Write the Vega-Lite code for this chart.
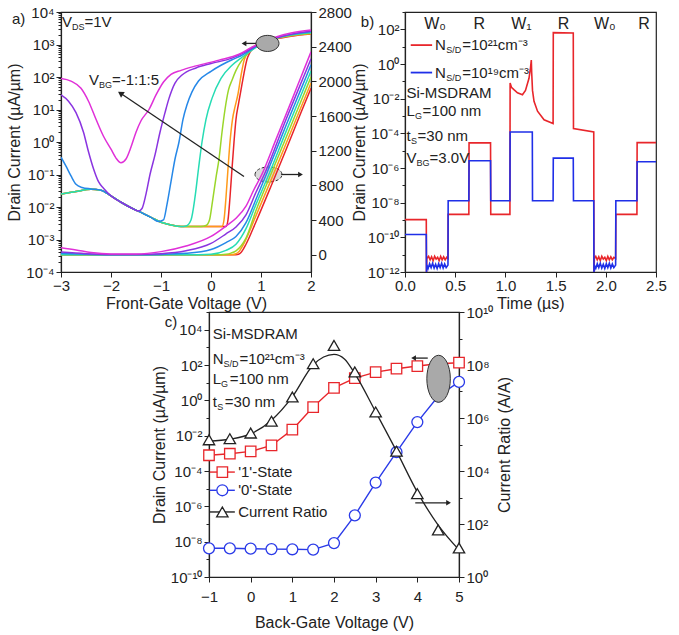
{
"$schema": "https://vega.github.io/schema/vega-lite/v6.json",
"background": "white",
"padding": {"left": 6, "top": 4, "right": 0, "bottom": 0},
"config": {
  "font": "Liberation Sans",
  "view": {"stroke": "#222", "strokeWidth": 1.2},
  "axis": {"labelFontSize": 15, "labelColor": "#222", "titleFontSize": 16, "titleFontWeight": "normal", "titleColor": "#222", "domainColor": "#222", "domainWidth": 1.2, "tickColor": "#222", "grid": false, "labelPadding": 2, "labelFlush": false, "labelOverlap": false},
  "text": {"font": "Liberation Sans", "color": "#222"}
},
"datasets": {
  "alog": [
    {"k":-1,"v":-3,"i":0.025},{"k":-1,"v":-2.7,"i":0.03},{"k":-1,"v":-2.4,"i":0.035},{"k":-1,"v":-2.2,"i":0.033},{"k":-1,"v":-2,"i":0.022},{"k":-1,"v":-1.8,"i":0.014},{"k":-1,"v":-1.6,"i":0.0095},{"k":-1,"v":-1.4,"i":0.0068},{"k":-1,"v":-1.2,"i":0.0048},{"k":-1,"v":-1,"i":0.0034},{"k":-1,"v":-0.8,"i":0.0028},{"k":-1,"v":-0.6,"i":0.0025},{"k":-1,"v":-0.4,"i":0.0025},{"k":-1,"v":-0.2,"i":0.0025},{"k":-1,"v":0,"i":0.0025},{"k":-1,"v":0.2,"i":0.0025},
    {"k":-1,"v":0.3,"i":0.0025},{"k":-1,"v":0.34,"i":0.004},{"k":-1,"v":0.38,"i":0.02},{"k":-1,"v":0.42,"i":0.15},{"k":-1,"v":0.46,"i":1},{"k":-1,"v":0.5,"i":5},{"k":-1,"v":0.55,"i":15},{"k":-1,"v":0.6,"i":40},{"k":-1,"v":0.66,"i":130},{"k":-1,"v":0.72,"i":350},{"k":-1,"v":0.78,"i":580},{"k":-1,"v":0.9,"i":880},{"k":-1,"v":1.05,"i":1150},{"k":-1,"v":1.3,"i":1480},{"k":-1,"v":1.6,"i":1800},{"k":-1,"v":2,"i":2100},
    {"k":0,"v":-3,"i":0.025},{"k":0,"v":-2.7,"i":0.03},{"k":0,"v":-2.4,"i":0.035},{"k":0,"v":-2.2,"i":0.033},{"k":0,"v":-2,"i":0.022},{"k":0,"v":-1.8,"i":0.014},{"k":0,"v":-1.6,"i":0.0095},{"k":0,"v":-1.4,"i":0.0068},{"k":0,"v":-1.2,"i":0.0048},{"k":0,"v":-1,"i":0.0034},{"k":0,"v":-0.8,"i":0.0028},{"k":0,"v":-0.6,"i":0.0025},{"k":0,"v":-0.4,"i":0.0025},{"k":0,"v":-0.2,"i":0.0025},{"k":0,"v":0,"i":0.0025},
    {"k":0,"v":0.22,"i":0.0025},{"k":0,"v":0.26,"i":0.004},{"k":0,"v":0.3,"i":0.02},{"k":0,"v":0.34,"i":0.15},{"k":0,"v":0.38,"i":1},{"k":0,"v":0.43,"i":5},{"k":0,"v":0.48,"i":12},{"k":0,"v":0.54,"i":30},{"k":0,"v":0.6,"i":110},{"k":0,"v":0.66,"i":320},{"k":0,"v":0.73,"i":560},{"k":0,"v":0.85,"i":860},{"k":0,"v":1,"i":1120},{"k":0,"v":1.3,"i":1520},{"k":0,"v":1.6,"i":1850},{"k":0,"v":2,"i":2150},
    {"k":1,"v":-3,"i":0.025},{"k":1,"v":-2.7,"i":0.03},{"k":1,"v":-2.4,"i":0.035},{"k":1,"v":-2.2,"i":0.033},{"k":1,"v":-2,"i":0.022},{"k":1,"v":-1.8,"i":0.014},{"k":1,"v":-1.6,"i":0.0095},{"k":1,"v":-1.4,"i":0.0068},{"k":1,"v":-1.2,"i":0.0048},{"k":1,"v":-1,"i":0.0034},{"k":1,"v":-0.8,"i":0.0028},{"k":1,"v":-0.6,"i":0.0025},{"k":1,"v":-0.4,"i":0.0025},{"k":1,"v":-0.2,"i":0.0025},
    {"k":1,"v":-0.1,"i":0.0027},{"k":1,"v":-0.03,"i":0.004},{"k":1,"v":0.03,"i":0.015},{"k":1,"v":0.1,"i":0.08},{"k":1,"v":0.16,"i":0.3},{"k":1,"v":0.22,"i":2},{"k":1,"v":0.28,"i":10},{"k":1,"v":0.35,"i":40},{"k":1,"v":0.42,"i":80},{"k":1,"v":0.5,"i":160},{"k":1,"v":0.62,"i":330},{"k":1,"v":0.75,"i":560},{"k":1,"v":0.9,"i":850},{"k":1,"v":1.05,"i":1150},{"k":1,"v":1.3,"i":1560},{"k":1,"v":1.6,"i":1900},{"k":1,"v":2,"i":2200},
    {"k":2,"v":-3,"i":0.025},{"k":2,"v":-2.7,"i":0.03},{"k":2,"v":-2.4,"i":0.035},{"k":2,"v":-2.2,"i":0.033},{"k":2,"v":-2,"i":0.022},{"k":2,"v":-1.8,"i":0.014},{"k":2,"v":-1.6,"i":0.0095},{"k":2,"v":-1.4,"i":0.0068},{"k":2,"v":-1.2,"i":0.0048},{"k":2,"v":-1,"i":0.0034},{"k":2,"v":-0.8,"i":0.0028},{"k":2,"v":-0.6,"i":0.0025},
    {"k":2,"v":-0.5,"i":0.0026},{"k":2,"v":-0.4,"i":0.004},{"k":2,"v":-0.32,"i":0.02},{"k":2,"v":-0.25,"i":0.15},{"k":2,"v":-0.18,"i":1},{"k":2,"v":-0.1,"i":5},{"k":2,"v":0.02,"i":22},{"k":2,"v":0.2,"i":90},{"k":2,"v":0.42,"i":230},{"k":2,"v":0.6,"i":380},{"k":2,"v":0.8,"i":650},{"k":2,"v":1,"i":1000},{"k":2,"v":1.3,"i":1550},{"k":2,"v":1.6,"i":1950},{"k":2,"v":2,"i":2300},
    {"k":3,"v":-3,"i":0.34},{"k":3,"v":-2.9,"i":0.18},{"k":3,"v":-2.8,"i":0.09},{"k":3,"v":-2.7,"i":0.05},{"k":3,"v":-2.58,"i":0.04},{"k":3,"v":-2.4,"i":0.036},{"k":3,"v":-2.2,"i":0.033},{"k":3,"v":-2,"i":0.022},{"k":3,"v":-1.8,"i":0.014},{"k":3,"v":-1.6,"i":0.0095},{"k":3,"v":-1.4,"i":0.0068},{"k":3,"v":-1.2,"i":0.0048},{"k":3,"v":-1.05,"i":0.0036},{"k":3,"v":-0.95,"i":0.004},{"k":3,"v":-0.88,"i":0.012},{"k":3,"v":-0.8,"i":0.06},{"k":3,"v":-0.72,"i":0.3},{"k":3,"v":-0.64,"i":1},{"k":3,"v":-0.56,"i":5},{"k":3,"v":-0.48,"i":14},{"k":3,"v":-0.38,"i":35},{"k":3,"v":-0.25,"i":75},{"k":3,"v":0,"i":150},{"k":3,"v":0.2,"i":230},{"k":3,"v":0.42,"i":340},{"k":3,"v":0.6,"i":450},{"k":3,"v":0.8,"i":700},{"k":3,"v":1,"i":1050},{"k":3,"v":1.3,"i":1600},{"k":3,"v":1.6,"i":2050},{"k":3,"v":2,"i":2450},
    {"k":4,"v":-3,"i":28},{"k":4,"v":-2.85,"i":18},{"k":4,"v":-2.7,"i":8},{"k":4,"v":-2.55,"i":2},{"k":4,"v":-2.45,"i":0.5},{"k":4,"v":-2.35,"i":0.15},{"k":4,"v":-2.25,"i":0.06},{"k":4,"v":-2.15,"i":0.038},{"k":4,"v":-2,"i":0.022},{"k":4,"v":-1.8,"i":0.014},{"k":4,"v":-1.6,"i":0.0095},{"k":4,"v":-1.45,"i":0.0075},{"k":4,"v":-1.38,"i":0.009},{"k":4,"v":-1.3,"i":0.025},{"k":4,"v":-1.22,"i":0.1},{"k":4,"v":-1.12,"i":0.4},{"k":4,"v":-1.02,"i":2},{"k":4,"v":-0.92,"i":8},{"k":4,"v":-0.84,"i":22},{"k":4,"v":-0.72,"i":65},{"k":4,"v":-0.58,"i":115},{"k":4,"v":-0.3,"i":190},{"k":4,"v":0,"i":260},{"k":4,"v":0.42,"i":380},{"k":4,"v":0.7,"i":600},{"k":4,"v":0.9,"i":900},{"k":4,"v":1.2,"i":1400},{"k":4,"v":1.6,"i":2050},{"k":4,"v":2,"i":2600},
    {"k":5,"v":-3,"i":90},{"k":5,"v":-2.8,"i":75},{"k":5,"v":-2.6,"i":45},{"k":5,"v":-2.45,"i":18},{"k":5,"v":-2.3,"i":5},{"k":5,"v":-2.15,"i":1.5},{"k":5,"v":-2,"i":0.6},{"k":5,"v":-1.9,"i":0.32},{"k":5,"v":-1.8,"i":0.23},{"k":5,"v":-1.7,"i":0.3},{"k":5,"v":-1.6,"i":0.7},{"k":5,"v":-1.5,"i":2},{"k":5,"v":-1.4,"i":4.5},{"k":5,"v":-1.24,"i":10},{"k":5,"v":-1.1,"i":28},{"k":5,"v":-0.95,"i":70},{"k":5,"v":-0.8,"i":120},{"k":5,"v":-0.6,"i":160},{"k":5,"v":-0.3,"i":220},{"k":5,"v":0.16,"i":330},{"k":5,"v":0.56,"i":500},{"k":5,"v":0.8,"i":800},{"k":5,"v":1,"i":1150},{"k":5,"v":1.3,"i":1700},{"k":5,"v":1.6,"i":2250},{"k":5,"v":2,"i":2800}
  ],
  "alin": [
    {"k":-1,"v":-3,"i":0},{"k":-1,"v":0.5,"i":0},{"k":-1,"v":0.55,"i":5},{"k":-1,"v":0.6,"i":25},{"k":-1,"v":0.7,"i":120},{"k":-1,"v":0.9,"i":380},{"k":-1,"v":1.2,"i":790},{"k":-1,"v":1.5,"i":1210},{"k":-1,"v":1.8,"i":1640},{"k":-1,"v":2,"i":1920},
    {"k":0,"v":-3,"i":0},{"k":0,"v":0.42,"i":0},{"k":0,"v":0.5,"i":10},{"k":0,"v":0.55,"i":30},{"k":0,"v":0.65,"i":120},{"k":0,"v":0.9,"i":450},{"k":0,"v":1.2,"i":860},{"k":0,"v":1.5,"i":1280},{"k":0,"v":1.8,"i":1700},{"k":0,"v":2,"i":1980},
    {"k":1,"v":-3,"i":0},{"k":1,"v":0.2,"i":0},{"k":1,"v":0.3,"i":4},{"k":1,"v":0.4,"i":18},{"k":1,"v":0.5,"i":45},{"k":1,"v":0.6,"i":100},{"k":1,"v":0.7,"i":190},{"k":1,"v":0.9,"i":510},{"k":1,"v":1.2,"i":930},{"k":1,"v":1.5,"i":1350},{"k":1,"v":1.8,"i":1770},{"k":1,"v":2,"i":2050},
    {"k":2,"v":-3,"i":0},{"k":2,"v":-0.5,"i":0},{"k":2,"v":0,"i":6},{"k":2,"v":0.3,"i":50},{"k":2,"v":0.5,"i":120},{"k":2,"v":0.7,"i":300},{"k":2,"v":0.9,"i":580},{"k":2,"v":1.16,"i":930},{"k":2,"v":1.5,"i":1420},{"k":2,"v":1.8,"i":1840},{"k":2,"v":2,"i":2120},
    {"k":3,"v":-3,"i":15},{"k":3,"v":-2.5,"i":5},{"k":3,"v":-2,"i":0},{"k":3,"v":-1.5,"i":0},{"k":3,"v":-1,"i":3},{"k":3,"v":-0.5,"i":15},{"k":3,"v":0,"i":60},{"k":3,"v":0.3,"i":140},{"k":3,"v":0.5,"i":210},{"k":3,"v":0.7,"i":370},{"k":3,"v":0.9,"i":640},{"k":3,"v":1.11,"i":930},{"k":3,"v":1.5,"i":1490},{"k":3,"v":1.8,"i":1910},{"k":3,"v":2,"i":2190},
    {"k":4,"v":-3,"i":30},{"k":4,"v":-2.5,"i":12},{"k":4,"v":-2,"i":3},{"k":4,"v":-1.5,"i":3},{"k":4,"v":-1,"i":12},{"k":4,"v":-0.5,"i":45},{"k":4,"v":0,"i":130},{"k":4,"v":0.3,"i":240},{"k":4,"v":0.5,"i":320},{"k":4,"v":0.7,"i":460},{"k":4,"v":0.9,"i":720},{"k":4,"v":1.07,"i":930},{"k":4,"v":1.5,"i":1560},{"k":4,"v":1.8,"i":1980},{"k":4,"v":2,"i":2260},
    {"k":5,"v":-3,"i":80},{"k":5,"v":-2.7,"i":55},{"k":5,"v":-2.4,"i":25},{"k":5,"v":-2,"i":8},{"k":5,"v":-1.5,"i":8},{"k":5,"v":-1,"i":35},{"k":5,"v":-0.5,"i":100},{"k":5,"v":0,"i":210},{"k":5,"v":0.3,"i":330},{"k":5,"v":0.5,"i":420},{"k":5,"v":0.7,"i":560},{"k":5,"v":0.85,"i":740},{"k":5,"v":1.02,"i":930},{"k":5,"v":1.3,"i":1330},{"k":5,"v":1.6,"i":1760},{"k":5,"v":1.8,"i":2050},{"k":5,"v":2,"i":2340}
  ],
  "bred": [
    {"t":0,"i":1.05e-9},{"t":0.212,"i":1.05e-9},{"t":0.214,"i":8e-13},{"t":0.218,"i":6e-12},{"t":0.235,"i":8e-12},{"t":0.25,"i":5e-12},{"t":0.265,"i":7.5e-12},{"t":0.28,"i":4.5e-12},{"t":0.295,"i":8e-12},{"t":0.31,"i":5.5e-12},{"t":0.325,"i":7e-12},{"t":0.34,"i":4.5e-12},{"t":0.355,"i":8e-12},{"t":0.37,"i":5e-12},{"t":0.385,"i":7.5e-12},{"t":0.4,"i":5e-12},{"t":0.415,"i":7e-12},{"t":0.428,"i":6e-12},
    {"t":0.43,"i":2.1e-9},{"t":0.636,"i":2.1e-9},{"t":0.638,"i":2.8e-5},{"t":0.852,"i":2.8e-5},{"t":0.854,"i":2.1e-9},{"t":1.045,"i":2.1e-9},
    {"t":1.047,"i":0.08},{"t":1.06,"i":0.045},{"t":1.085,"i":0.033},{"t":1.12,"i":0.022},{"t":1.17,"i":0.017},{"t":1.2,"i":0.03},{"t":1.235,"i":0.15},{"t":1.25,"i":0.6},{"t":1.258,"i":1.7},{"t":1.262,"i":0.3},{"t":1.27,"i":0.03},{"t":1.285,"i":0.007},{"t":1.32,"i":0.0019},{"t":1.385,"i":0.0006},{"t":1.475,"i":0.00037},
    {"t":1.477,"i":65},{"t":1.676,"i":62},{"t":1.678,"i":0.00019},{"t":1.88,"i":0.00012},{"t":1.882,"i":8e-13},
    {"t":1.886,"i":6e-12},{"t":1.9,"i":8e-12},{"t":1.915,"i":5e-12},{"t":1.93,"i":7.5e-12},{"t":1.945,"i":4.5e-12},{"t":1.96,"i":8e-12},{"t":1.975,"i":5.5e-12},{"t":1.99,"i":7e-12},{"t":2.005,"i":4.5e-12},{"t":2.02,"i":8e-12},{"t":2.035,"i":5e-12},{"t":2.05,"i":7.5e-12},{"t":2.065,"i":5e-12},{"t":2.08,"i":7e-12},{"t":2.098,"i":6e-12},
    {"t":2.1,"i":2.1e-9},{"t":2.31,"i":2.1e-9},{"t":2.312,"i":2.9e-5},{"t":2.5,"i":2.9e-5}
  ],
  "bblue": [
    {"t":0,"i":1.45e-10},{"t":0.212,"i":1.45e-10},{"t":0.214,"i":8e-13},{"t":0.218,"i":2.5e-12},{"t":0.23,"i":1.6e-12},{"t":0.245,"i":3e-12},{"t":0.26,"i":1.8e-12},{"t":0.275,"i":3.2e-12},{"t":0.29,"i":1.7e-12},{"t":0.305,"i":2.8e-12},{"t":0.32,"i":1.6e-12},{"t":0.335,"i":3e-12},{"t":0.35,"i":1.8e-12},{"t":0.365,"i":3.2e-12},{"t":0.38,"i":1.7e-12},{"t":0.395,"i":2.9e-12},{"t":0.41,"i":1.8e-12},{"t":0.428,"i":2.5e-12},
    {"t":0.43,"i":1.3e-8},{"t":0.636,"i":1.3e-8},{"t":0.638,"i":2.6e-6},{"t":0.852,"i":2.6e-6},{"t":0.854,"i":1.3e-8},{"t":1.045,"i":1.3e-8},{"t":1.047,"i":0.00012},{"t":1.268,"i":0.00012},{"t":1.27,"i":1.3e-8},{"t":1.475,"i":1.3e-8},{"t":1.477,"i":3.7e-6},{"t":1.676,"i":3.7e-6},{"t":1.678,"i":1.3e-8},{"t":1.88,"i":1.3e-8},{"t":1.882,"i":8e-13},
    {"t":1.886,"i":2.5e-12},{"t":1.9,"i":1.6e-12},{"t":1.915,"i":3e-12},{"t":1.93,"i":1.8e-12},{"t":1.945,"i":3.2e-12},{"t":1.96,"i":1.7e-12},{"t":1.975,"i":2.8e-12},{"t":1.99,"i":1.6e-12},{"t":2.005,"i":3e-12},{"t":2.02,"i":1.8e-12},{"t":2.035,"i":3.2e-12},{"t":2.05,"i":1.7e-12},{"t":2.065,"i":2.9e-12},{"t":2.08,"i":1.8e-12},{"t":2.098,"i":2.5e-12},
    {"t":2.1,"i":1.3e-8},{"t":2.31,"i":1.3e-8},{"t":2.312,"i":2.3e-6},{"t":2.5,"i":2.3e-6}
  ],
  "c": [
    {"v":-1,"one":0.00078,"zero":4.2e-9,"ratio":150000},
    {"v":-0.5,"one":0.00095,"zero":4.2e-9,"ratio":166000},
    {"v":0,"one":0.00129,"zero":4.0e-9,"ratio":270000},
    {"v":0.5,"one":0.0028,"zero":3.8e-9,"ratio":760000},
    {"v":1,"one":0.0219,"zero":3.7e-9,"ratio":6200000},
    {"v":1.5,"one":0.417,"zero":3.55e-9,"ratio":112000000},
    {"v":2,"one":5.1,"zero":8.3e-9,"ratio":550000000},
    {"v":2.5,"one":18.2,"zero":3.1e-7,"ratio":55000000},
    {"v":3,"one":39.8,"zero":2.2e-5,"ratio":1700000},
    {"v":3.5,"one":61.7,"zero":0.00117,"ratio":56000},
    {"v":4,"one":87,"zero":0.059,"ratio":1400},
    {"v":4.5,"one":117,"zero":1.7,"ratio":60},
    {"v":5,"one":135,"zero":11,"ratio":12.4}
  ],
  "cfit": [
    {"v":-1,"r":135000},{"v":-0.5,"r":158000},{"v":0,"r":250000},{"v":0.5,"r":830000},{"v":1,"r":6300000},{"v":1.5,"r":100000000},{"v":1.75,"r":200000000},{"v":2,"r":250000000},{"v":2.25,"r":170000000},{"v":2.5,"r":47000000},{"v":3,"r":1700000},{"v":3.5,"r":56000},{"v":4,"r":1600},{"v":4.5,"r":91},{"v":5,"r":10.5}
  ]
},
"vconcat": [
 {"hconcat": [
  {
   "width": 250, "height": 260,
   "layer": [
    {"layer": [
      {"data": {"name": "alog"},
       "mark": {"type": "line", "clip": true, "strokeWidth": 1.5, "interpolate": "monotone"},
       "encoding": {
         "x": {"field": "v", "type": "quantitative", "scale": {"domain": [-3, 2], "nice": false},
               "axis": {"values": [-3,-2.5,-2,-1.5,-1,-0.5,0,0.5,1,1.5,2], "labelOverlap": false, "labelExpr": "datum.value%1==0 ? datum.label : ''", "tickSize": {"condition": {"test": "datum.value%1==0", "value": 5}, "value": 3}, "labelPadding": 1, "title": "Front-Gate Voltage (V)", "titlePadding": 2}},
         "y": {"field": "i", "type": "quantitative", "scale": {"type": "log", "domain": [0.0001, 10000], "nice": false},
               "axis": {"values": [0.0001,0.0002,0.0003,0.0004,0.0005,0.0006,0.0007,0.0008,0.0009,0.001,0.002,0.003,0.004,0.005,0.006,0.007,0.008,0.009,0.01,0.02,0.03,0.04,0.05,0.06,0.07,0.08,0.09,0.1,0.2,0.3,0.4,0.5,0.6,0.7,0.8,0.9,1,2,3,4,5,6,7,8,9,10,20,30,40,50,60,70,80,90,100,200,300,400,500,600,700,800,900,1000,2000,3000,4000,5000,6000,7000,8000,9000,10000],
                        "labelOverlap": false,
                        "labelExpr": "abs(log(datum.value)/LN10-round(log(datum.value)/LN10))<0.001 ? '10'+replace(replace(replace(replace(replace(replace(replace(replace(replace(replace(replace(''+round(log(datum.value)/LN10),'-','⁻'),'0','⁰'),'1','¹'),'2','²'),'3','³'),'4','⁴'),'5','⁵'),'6','⁶'),'7','⁷'),'8','⁸'),'9','⁹') : ''",
                        "tickSize": {"condition": {"test": "abs(log(datum.value)/LN10-round(log(datum.value)/LN10))<0.001", "value": 5}, "value": 3},
                        "title": "Drain Current (µA/µm)", "titlePadding": 3}},
         "color": {"field": "k", "type": "ordinal", "scale": {"domain": [-1,0,1,2,3,4,5], "range": ["#e8242a","#ff9a1a","#9ad62a","#26dcb4","#2688e8","#8a34e0","#e030d8"]}, "legend": null}
       }},
      {"data": {"values": [{"v":0.66,"i":0.087,"g":1},{"v":-1.81,"i":31.6,"g":1},{"v":0.9,"i":1080,"g":2},{"v":0.68,"i":1080,"g":2},{"v":1.4,"i":0.1,"g":3},{"v":1.77,"i":0.1,"g":3}]},
       "mark": {"type": "line", "color": "#222", "strokeWidth": 1.3},
       "encoding": {"x": {"field": "v", "type": "quantitative"}, "y": {"field": "i", "type": "quantitative"}, "detail": {"field": "g"}}},
      {"data": {"values": [{"v":-1.81,"i":31.6}]},
       "mark": {"type": "point", "shape": "triangle-up", "angle": 304, "filled": true, "color": "#222", "size": 45, "opacity": 1},
       "encoding": {"x": {"field": "v", "type": "quantitative"}, "y": {"field": "i", "type": "quantitative"}}},
      {"data": {"values": [{"v":0.66,"i":1080}]},
       "mark": {"type": "point", "shape": "triangle-left", "filled": true, "color": "#222", "size": 30, "opacity": 1},
       "encoding": {"x": {"field": "v", "type": "quantitative"}, "y": {"field": "i", "type": "quantitative"}}},
      {"data": {"values": [{"v":1.79,"i":0.1}]},
       "mark": {"type": "point", "shape": "triangle-right", "filled": true, "color": "#222", "size": 30, "opacity": 1},
       "encoding": {"x": {"field": "v", "type": "quantitative"}, "y": {"field": "i", "type": "quantitative"}}},
      {"data": {"values": [{"v":1.13,"i":1080}]},
       "mark": {"type": "point", "shape": "M-1,0A1,0.7,0,1,1,1,0A1,0.7,0,1,1,-1,0Z", "size": 529, "filled": true, "fill": "#a9a9a9", "stroke": "#333", "strokeWidth": 1, "opacity": 1},
       "encoding": {"x": {"field": "v", "type": "quantitative"}, "y": {"field": "i", "type": "quantitative"}}},
      {"data": {"values": [{"v":1.15,"i":0.1}]},
       "mark": {"type": "point", "shape": "M-1,0A1,0.56,0,1,1,1,0A1,0.56,0,1,1,-1,0Z", "size": 729, "filled": true, "fill": "#999", "fillOpacity": 0.35, "stroke": "#333", "strokeWidth": 1, "strokeDash": [3,2], "opacity": 1},
       "encoding": {"x": {"field": "v", "type": "quantitative"}, "y": {"field": "i", "type": "quantitative"}}},
      {"data": {"values": [{"v":-3.98,"i":6000,"s":"a)"},{"v":-2.98,"i":4900,"s":"V"},{"v":-2.53,"i":4900,"s":"=1V"},{"v":-2.44,"i":80,"s":"V"},{"v":-1.98,"i":80,"s":"=-1:1:5"}]},
       "mark": {"type": "text", "align": "left", "baseline": "middle", "fontSize": 15},
       "encoding": {"x": {"field": "v", "type": "quantitative"}, "y": {"field": "i", "type": "quantitative"}, "text": {"field": "s"}}},
      {"data": {"values": [{"v":-2.78,"i":4900,"s":"DS"},{"v":-2.24,"i":80,"s":"BG"}]},
       "mark": {"type": "text", "align": "left", "baseline": "middle", "fontSize": 9, "dy": 5},
       "encoding": {"x": {"field": "v", "type": "quantitative"}, "y": {"field": "i", "type": "quantitative"}, "text": {"field": "s"}}}
    ]},
    {"data": {"name": "alin"},
     "mark": {"type": "line", "clip": true, "strokeWidth": 1.5, "interpolate": "monotone"},
     "encoding": {
       "x": {"field": "v", "type": "quantitative"},
       "y": {"field": "i", "type": "quantitative", "scale": {"domain": [-200, 2800], "nice": false, "zero": false},
             "axis": {"orient": "right", "values": [0,400,800,1200,1600,2000,2400,2800], "labelOverlap": false, "labelSeparation": 0, "format": "d", "tickSize": 5, "title": null}},
       "color": {"field": "k", "type": "ordinal"}
     }}
   ],
   "resolve": {"scale": {"y": "independent"}}
  },
  {
   "width": 251, "height": 260,
   "layer": [
    {"data": {"name": "bred"},
     "mark": {"type": "line", "clip": true, "color": "#e8262b", "strokeWidth": 1.6},
     "encoding": {
       "x": {"field": "t", "type": "quantitative", "scale": {"domain": [0, 2.5], "nice": false},
             "axis": {"values": [0,0.25,0.5,0.75,1,1.25,1.5,1.75,2,2.25,2.5], "labelOverlap": false, "format": ".1f", "labelExpr": "datum.value%0.5==0 ? datum.label : ''", "tickSize": {"condition": {"test": "datum.value%0.5==0", "value": 5}, "value": 3}, "labelPadding": 1, "title": "Time (µs)", "titlePadding": 2}},
       "y": {"field": "i", "type": "quantitative", "scale": {"type": "log", "domain": [1e-12, 1000], "nice": false},
             "axis": {"values": [1e-12,1e-11,1e-10,1e-9,1e-8,1e-7,1e-6,1e-5,1e-4,1e-3,0.01,0.1,1,10,100,1000],
                      "labelOverlap": false,
                      "labelExpr": "round(log(datum.value)/LN10)%2==0 && datum.value<500 ? '10'+replace(replace(replace(replace(replace(replace(replace(replace(replace(replace(replace(''+round(log(datum.value)/LN10),'-','⁻'),'0','⁰'),'1','¹'),'2','²'),'3','³'),'4','⁴'),'5','⁵'),'6','⁶'),'7','⁷'),'8','⁸'),'9','⁹') : ''",
                      "tickSize": {"condition": {"test": "round(log(datum.value)/LN10)%2==0", "value": 5}, "value": 3},
                      "labelPadding": 1,
                      "title": "Drain Current (µA/µm)", "titlePadding": 0}}
     }},
    {"data": {"name": "bblue"},
     "mark": {"type": "line", "clip": true, "color": "#1f2fe8", "strokeWidth": 1.6},
     "encoding": {"x": {"field": "t", "type": "quantitative"}, "y": {"field": "i", "type": "quantitative"}}},
    {"data": {"values": [{"t":0.057,"i":12.3},{"t":0.27,"i":12.3}]},
     "mark": {"type": "line", "color": "#e8262b", "strokeWidth": 1.8},
     "encoding": {"x": {"field": "t", "type": "quantitative"}, "y": {"field": "i", "type": "quantitative"}}},
    {"data": {"values": [{"t":0.057,"i":0.32},{"t":0.27,"i":0.32}]},
     "mark": {"type": "line", "color": "#1f2fe8", "strokeWidth": 1.8},
     "encoding": {"x": {"field": "t", "type": "quantitative"}, "y": {"field": "i", "type": "quantitative"}}},
    {"data": {"values": [{"t":-0.44,"i":260,"s":"b)"},{"t":0.3,"i":12.3,"s":"N"},{"t":0.57,"i":12.3,"s":"=10²¹cm⁻³"},{"t":0.3,"i":0.32,"s":"N"},{"t":0.57,"i":0.32,"s":"=10¹⁹cm⁻³"},{"t":0.015,"i":0.02,"s":"Si-MSDRAM"},{"t":0.015,"i":0.0019,"s":"L"},{"t":0.175,"i":0.0019,"s":"=100 nm"},{"t":0.015,"i":0.000069,"s":"t"},{"t":0.125,"i":0.000069,"s":"=30 nm"},{"t":0.015,"i":0.000004,"s":"V"},{"t":0.245,"i":0.000004,"s":"=3.0V"}]},
     "mark": {"type": "text", "align": "left", "baseline": "middle", "fontSize": 15},
     "encoding": {"x": {"field": "t", "type": "quantitative"}, "y": {"field": "i", "type": "quantitative"}, "text": {"field": "s"}}},
    {"data": {"values": [{"t":0.41,"i":12.3,"s":"S/D"},{"t":0.41,"i":0.32,"s":"S/D"},{"t":0.1,"i":0.0019,"s":"G"},{"t":0.06,"i":0.000069,"s":"S"},{"t":0.115,"i":0.000004,"s":"BG"}]},
     "mark": {"type": "text", "align": "left", "baseline": "middle", "fontSize": 9, "dy": 5},
     "encoding": {"x": {"field": "t", "type": "quantitative"}, "y": {"field": "i", "type": "quantitative"}, "text": {"field": "s"}}},
    {"data": {"values": [{"t":0.3,"i":215,"s":"W₀"},{"t":0.74,"i":215,"s":"R"},{"t":1.16,"i":215,"s":"W₁"},{"t":1.58,"i":215,"s":"R"},{"t":1.99,"i":215,"s":"W₀"},{"t":2.38,"i":215,"s":"R"}]},
     "mark": {"type": "text", "align": "center", "baseline": "middle", "fontSize": 16},
     "encoding": {"x": {"field": "t", "type": "quantitative"}, "y": {"field": "i", "type": "quantitative"}, "text": {"field": "s"}}}
   ]
  }
 ], "spacing": -2},
 {"hconcat": [
  {"width": 89, "height": 10, "view": {"stroke": null}, "data": {"values": [{"s": ""}]}, "mark": {"type": "text"}, "encoding": {"text": {"field": "s"}}},
  {
  "width": 250, "height": 265,
  "layer": [
   {"layer": [
     {"data": {"name": "c"},
      "mark": {"type": "line", "color": "#e8262b", "strokeWidth": 1.4},
      "encoding": {
        "x": {"field": "v", "type": "quantitative", "scale": {"domain": [-1, 5], "nice": false},
              "axis": {"values": [-1,-0.5,0,0.5,1,1.5,2,2.5,3,3.5,4,4.5,5], "labelOverlap": false, "labelExpr": "datum.value%1==0 ? datum.label : ''", "tickSize": {"condition": {"test": "datum.value%1==0", "value": 5}, "value": 3}, "labelPadding": 7, "title": "Back-Gate Voltage (V)", "titlePadding": 10}},
        "y": {"field": "one", "type": "quantitative", "scale": {"type": "log", "domain": [1e-10, 100000], "nice": false},
              "axis": {"values": [1e-10,1e-9,1e-8,1e-7,1e-6,1e-5,1e-4,1e-3,0.01,0.1,1,10,100,1000,10000,100000],
                       "labelOverlap": false,
                       "labelExpr": "round(log(datum.value)/LN10)%2==0 && datum.value<50000 ? '10'+replace(replace(replace(replace(replace(replace(replace(replace(replace(replace(replace(''+round(log(datum.value)/LN10),'-','⁻'),'0','⁰'),'1','¹'),'2','²'),'3','³'),'4','⁴'),'5','⁵'),'6','⁶'),'7','⁷'),'8','⁸'),'9','⁹') : ''",
                       "tickSize": {"condition": {"test": "round(log(datum.value)/LN10)%2==0", "value": 5}, "value": 3},
                       "title": "Drain Current (µA/µm)", "titlePadding": 3}}
      }},
     {"data": {"name": "c"},
      "mark": {"type": "point", "shape": "square", "filled": true, "fill": "white", "stroke": "#e8262b", "strokeWidth": 1.3, "size": 110, "opacity": 1},
      "encoding": {"x": {"field": "v", "type": "quantitative"}, "y": {"field": "one", "type": "quantitative"}}},
     {"data": {"name": "c"},
      "mark": {"type": "line", "color": "#2a3ae8", "strokeWidth": 1.4},
      "encoding": {"x": {"field": "v", "type": "quantitative"}, "y": {"field": "zero", "type": "quantitative"}}},
     {"data": {"name": "c"},
      "mark": {"type": "point", "shape": "circle", "filled": true, "fill": "white", "stroke": "#2a3ae8", "strokeWidth": 1.3, "size": 120, "opacity": 1},
      "encoding": {"x": {"field": "v", "type": "quantitative"}, "y": {"field": "zero", "type": "quantitative"}}},
     {"data": {"values": [{"v":-0.98,"one":8.7e-5},{"v":-0.38,"one":8.7e-5}]},
      "mark": {"type": "line", "color": "#e8262b", "strokeWidth": 1.4},
      "encoding": {"x": {"field": "v", "type": "quantitative"}, "y": {"field": "one", "type": "quantitative"}}},
     {"data": {"values": [{"v":-0.98,"one":8.1e-6},{"v":-0.38,"one":8.1e-6}]},
      "mark": {"type": "line", "color": "#2a3ae8", "strokeWidth": 1.4},
      "encoding": {"x": {"field": "v", "type": "quantitative"}, "y": {"field": "one", "type": "quantitative"}}},
     {"data": {"values": [{"v":-0.98,"one":4.8e-7},{"v":-0.38,"one":4.8e-7}]},
      "mark": {"type": "line", "color": "#222", "strokeWidth": 1.4},
      "encoding": {"x": {"field": "v", "type": "quantitative"}, "y": {"field": "one", "type": "quantitative"}}},
     {"data": {"values": [{"v":-0.68,"one":8.7e-5}]},
      "mark": {"type": "point", "shape": "square", "filled": true, "fill": "white", "stroke": "#e8262b", "strokeWidth": 1.3, "size": 110, "opacity": 1},
      "encoding": {"x": {"field": "v", "type": "quantitative"}, "y": {"field": "one", "type": "quantitative"}}},
     {"data": {"values": [{"v":-0.68,"one":8.1e-6}]},
      "mark": {"type": "point", "shape": "circle", "filled": true, "fill": "white", "stroke": "#2a3ae8", "strokeWidth": 1.3, "size": 120, "opacity": 1},
      "encoding": {"x": {"field": "v", "type": "quantitative"}, "y": {"field": "one", "type": "quantitative"}}},
     {"data": {"values": [{"v":-0.68,"one":4.8e-7}]},
      "mark": {"type": "point", "shape": "triangle-up", "filled": true, "fill": "white", "stroke": "#222", "strokeWidth": 1.3, "size": 130, "opacity": 1},
      "encoding": {"x": {"field": "v", "type": "quantitative"}, "y": {"field": "one", "type": "quantitative"}}},
     {"data": {"values": [{"v":-2.06,"one":27000,"s":"c)"},{"v":-0.91,"one":5600,"s":"Si-MSDRAM"},{"v":-0.91,"one":224,"s":"N"},{"v":-0.27,"one":224,"s":"=10²¹cm⁻³"},{"v":-0.91,"one":16.6,"s":"L"},{"v":-0.5,"one":16.6,"s":"=100 nm"},{"v":-0.91,"one":0.79,"s":"t"},{"v":-0.62,"one":0.79,"s":"=30 nm"},{"v":-0.3,"one":8.7e-5,"s":"'1'-State"},{"v":-0.3,"one":8.1e-6,"s":"'0'-State"},{"v":-0.3,"one":4.8e-7,"s":"Current Ratio"}]},
      "mark": {"type": "text", "align": "left", "baseline": "middle", "fontSize": 15},
      "encoding": {"x": {"field": "v", "type": "quantitative"}, "y": {"field": "one", "type": "quantitative"}, "text": {"field": "s"}}},
     {"data": {"values": [{"v":-0.65,"one":224,"s":"S/D"},{"v":-0.71,"one":16.6,"s":"G"},{"v":-0.8,"one":0.79,"s":"S"}]},
      "mark": {"type": "text", "align": "left", "baseline": "middle", "fontSize": 9, "dy": 5},
      "encoding": {"x": {"field": "v", "type": "quantitative"}, "y": {"field": "one", "type": "quantitative"}, "text": {"field": "s"}}},
     {"data": {"values": [{"v":4.51,"one":16.6}]},
      "mark": {"type": "point", "shape": "M0,-1A0.5,1,0,1,1,0,1A0.5,1,0,1,1,0,-1Z", "size": 2209, "filled": true, "fill": "#a9a9a9", "stroke": "#333", "strokeWidth": 1, "opacity": 1},
      "encoding": {"x": {"field": "v", "type": "quantitative"}, "y": {"field": "one", "type": "quantitative"}}},
     {"data": {"values": [{"v":3.93,"one":246},{"v":4.25,"one":246}]},
      "mark": {"type": "line", "color": "#222", "strokeWidth": 1.3},
      "encoding": {"x": {"field": "v", "type": "quantitative"}, "y": {"field": "one", "type": "quantitative"}}},
     {"data": {"values": [{"v":3.91,"one":246}]},
      "mark": {"type": "point", "shape": "triangle-left", "filled": true, "color": "#222", "size": 30, "opacity": 1},
      "encoding": {"x": {"field": "v", "type": "quantitative"}, "y": {"field": "one", "type": "quantitative"}}}
   ]},
   {"layer": [
     {"data": {"name": "cfit"},
      "mark": {"type": "line", "interpolate": "monotone", "color": "#222", "strokeWidth": 1.3},
      "encoding": {
        "x": {"field": "v", "type": "quantitative"},
        "y": {"field": "r", "type": "quantitative", "scale": {"type": "log", "domain": [1, 10000000000], "nice": false},
              "axis": {"orient": "right", "values": [1,10,100,1000,10000,100000,1000000,10000000,100000000,1000000000,10000000000],
                       "labelOverlap": false,
                       "labelExpr": "round(log(datum.value)/LN10)%2==0 ? '10'+replace(replace(replace(replace(replace(replace(replace(replace(replace(replace(replace(''+round(log(datum.value)/LN10),'-','⁻'),'0','⁰'),'1','¹'),'2','²'),'3','³'),'4','⁴'),'5','⁵'),'6','⁶'),'7','⁷'),'8','⁸'),'9','⁹') : ''",
                       "tickSize": {"condition": {"test": "round(log(datum.value)/LN10)%2==0", "value": 5}, "value": 3},
                       "title": "Current Ratio (A/A)", "titleAngle": -90, "titleBaseline": "top", "titlePadding": 4}}
      }},
     {"data": {"name": "c"},
      "mark": {"type": "point", "shape": "triangle-up", "filled": true, "fill": "white", "stroke": "#222", "strokeWidth": 1.3, "size": 130, "opacity": 1},
      "encoding": {"x": {"field": "v", "type": "quantitative"}, "y": {"field": "ratio", "type": "quantitative"}}},
     {"data": {"values": [{"v":3.95,"r":630},{"v":4.72,"r":630}]},
      "mark": {"type": "line", "color": "#222", "strokeWidth": 1.3},
      "encoding": {"x": {"field": "v", "type": "quantitative"}, "y": {"field": "r", "type": "quantitative"}}},
     {"data": {"values": [{"v":4.75,"r":630}]},
      "mark": {"type": "point", "shape": "triangle-right", "filled": true, "color": "#222", "size": 30, "opacity": 1},
      "encoding": {"x": {"field": "v", "type": "quantitative"}, "y": {"field": "r", "type": "quantitative"}}}
   ]}
  ],
  "resolve": {"scale": {"y": "independent"}}
  }
 ], "spacing": 0}
],
"spacing": -8
}
